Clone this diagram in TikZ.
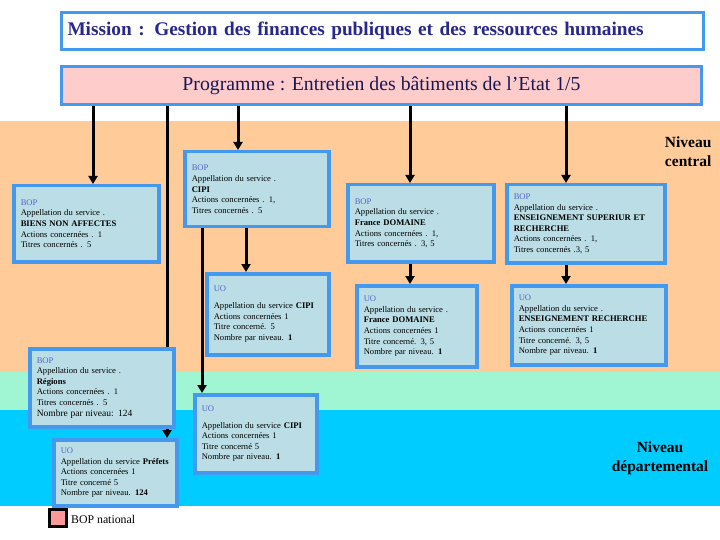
\documentclass[tikz,border=0pt]{standalone}
\usepackage{fontspec}
\setmainfont{Liberation Serif}
\usetikzlibrary{arrows.meta}
\definecolor{orangebg}{RGB}{255,204,153}
\definecolor{mintbg}{RGB}{160,245,210}
\definecolor{cyanbg}{RGB}{0,204,255}
\definecolor{boxfill}{RGB}{187,222,230}
\definecolor{boxblue}{RGB}{68,153,238}
\definecolor{titleblue}{RGB}{85,100,204}
\definecolor{navy}{RGB}{40,40,140}
\definecolor{pinkfill}{RGB}{255,204,204}
\definecolor{legpink}{RGB}{255,153,153}
\pgfdeclarelayer{bands}
\pgfdeclarelayer{bg}
\pgfsetlayers{bands,bg,main}
\tikzset{
  infobox/.style={draw=boxblue, line width=3.5pt, fill=boxfill, inner xsep=7pt, inner ysep=2pt,
    align=left, anchor=north west, font=\fontsize{8.6}{10.6}\selectfont},
  arr/.style={line width=3pt, -{Triangle[length=8pt,width=9pt]}},
  lvl/.style={font=\fontsize{15.5}{19}\selectfont\bfseries},
}
\newcommand{\hd}[1]{\textcolor{titleblue}{#1}}
\begin{document}
\begin{tikzpicture}[x=1pt,y=-1pt]
\useasboundingbox (0,0) rectangle (720,540);
\begin{pgfonlayer}{bands}
\fill[white] (0,0) rectangle (720,540);
\fill[orangebg] (0,121) rectangle (720,372);
\fill[mintbg] (0,372) rectangle (720,410);
\fill[cyanbg] (0,410) rectangle (720,506);
\end{pgfonlayer}

% top boxes
\node[draw=boxblue, line width=3pt, fill=white, anchor=north west, minimum width=642pt, minimum height=37pt,
  text width=630pt, inner xsep=6pt, align=left, font=\fontsize{19.3}{21}\selectfont\bfseries, text=navy]
  (mission) at (60,11) {Mission : Gestion des finances publiques et des ressources humaines};
\node[draw=boxblue, line width=3pt, fill=pinkfill, anchor=north west, minimum width=640pt, minimum height=38pt,
  font=\fontsize{19.8}{21}\selectfont, text=navy!60!black]
  (prog) at (60,65) {Programme : Entretien des bâtiments de l’Etat 1/5};

% BOP boxes
\node[infobox, minimum width=145pt, minimum height=76pt, text width=131pt] (bna) at (12,184)
  {\hd{BOP}\\Appellation du service .\\\textbf{BIENS NON AFFECTES}\\Actions concernées . 1\\Titres concernés . 5};
\node[infobox, minimum width=144pt, minimum height=75pt, text width=130pt] (bcipi) at (183,150)
  {\hd{BOP}\\Appellation du service .\\\textbf{CIPI}\\Actions concernées . 1,\\Titres concernés . 5};
\node[infobox, minimum width=146pt, minimum height=77pt, text width=132pt] (bfd) at (346,183)
  {\hd{BOP}\\Appellation du service .\\\textbf{France DOMAINE}\\Actions concernées . 1,\\Titres concernés . 3, 5};
\node[infobox, minimum width=158pt, minimum height=78pt, text width=144pt] (bens) at (505,183)
  {\hd{BOP}\\Appellation du service .\\\textbf{ENSEIGNEMENT SUPERIUR ET}\\\textbf{RECHERCHE}\\Actions concernées . 1,\\Titres concernés .3, 5};

% UO national
\node[infobox, minimum width=122pt, minimum height=81pt, text width=108pt] (ucipi) at (205,272)
  {\hd{UO}\\[6pt]Appellation du service \textbf{CIPI}\\Actions concernées 1\\Titre concerné. 5\\Nombre par niveau. \textbf{1}};
\node[infobox, minimum width=120pt, minimum height=81pt, text width=106pt] (ufd) at (355,284)
  {\hd{UO}\\Appellation du service .\\\textbf{France DOMAINE}\\Actions concernées 1\\Titre concerné. 3, 5\\Nombre par niveau. \textbf{1}};
\node[infobox, minimum width=154pt, minimum height=79pt, text width=140pt] (uens) at (510,284)
  {\hd{UO}\\Appellation du service .\\\textbf{ENSEIGNEMENT RECHERCHE}\\Actions concernées 1\\Titre concerné. 3, 5\\Nombre par niveau. \textbf{1}};

% regional / departmental
\node[infobox, minimum width=144pt, minimum height=78pt, text width=130pt] (breg) at (28,347)
  {\hd{BOP}\\Appellation du service .\\\textbf{Régions}\\Actions concernées . 1\\Titres concernés . 5\\{\fontsize{9.5}{11}\selectfont Nombre par niveau: 124}};
\node[infobox, minimum width=123pt, minimum height=66pt, text width=109pt] (upref) at (52,438)
  {\hd{UO}\\Appellation du service \textbf{Préfets}\\Actions concernées 1\\Titre concerné 5\\Nombre par niveau. \textbf{124}};
\node[infobox, minimum width=122pt, minimum height=78pt, text width=108pt] (ucipid) at (193,393)
  {\hd{UO}\\[6pt]Appellation du service \textbf{CIPI}\\Actions concernées 1\\Titre concerné 5\\Nombre par niveau. \textbf{1}};

% level labels
\node[lvl, align=right, anchor=east] (lvc) at (715,152) {Niveau\\central};
\node[lvl, align=center] (lvd) at (660,458) {Niveau\\départemental};

% legend
\node[draw=black, line width=3pt, fill=legpink, minimum size=17pt, inner sep=0pt] (leg) at (57.5,518) {};
\node[anchor=west, font=\fontsize{11.8}{13}\selectfont, inner sep=0pt] (legt) at (71,519) {BOP national};

% connectors
\coordinate (c1) at (93,0);
\coordinate (c2) at (167,0);
\coordinate (c3) at (238,0);
\coordinate (c4) at (410,0);
\coordinate (c5) at (566,0);
\coordinate (c6) at (202,0);
\coordinate (c7) at (246,0);
\begin{pgfonlayer}{bg}
\draw[arr] (prog.south -| c1) -- (bna.north -| c1);
\draw[arr] (prog.south -| c2) -- (upref.north -| c2);
\draw[arr] (prog.south -| c3) -- (bcipi.north -| c3);
\draw[arr] (prog.south -| c4) -- (bfd.north -| c4);
\draw[arr] (prog.south -| c5) -- (bens.north -| c5);
\draw[arr] (bcipi.south -| c6) -- (ucipid.north -| c6);
\draw[arr] (bcipi.south -| c7) -- (ucipi.north -| c7);
\draw[arr] (bfd.south -| c4) -- (ufd.north -| c4);
\draw[arr] (bens.south -| c5) -- (uens.north -| c5);
\end{pgfonlayer}
\end{tikzpicture}
\end{document}
